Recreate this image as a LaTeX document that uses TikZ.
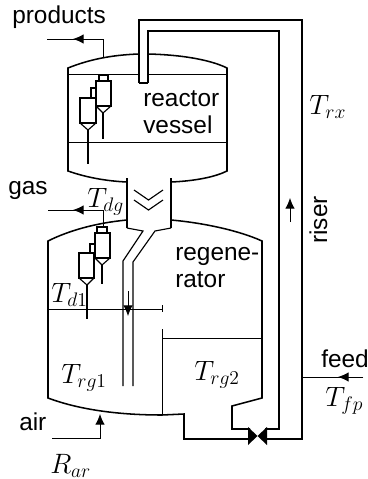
\documentclass[tikz,border=0pt]{standalone}
\usepackage{fix-cm}
\usepackage{fontspec}
\setmainfont{Liberation Sans}
\usepackage{amsmath}
\usetikzlibrary{positioning,arrows.meta,calc}
\tikzset{
  wall/.style    ={line width=1.15pt,draw=black},
  thinwall/.style={line width=0.85pt,draw=black},
  level/.style   ={line width=0.7pt,draw=black},
  pipe/.style    ={line width=0.7pt,draw=black},
  flow/.style    ={line width=0.7pt,draw=black,-{Latex[length=2.8mm,width=2.5mm]}},
  tag/.style     ={inner sep=0pt,font=\fontsize{18.3}{20}\selectfont,align=left},
  mathtag/.style ={inner sep=0pt,font=\fontsize{21}{24}\selectfont},
}
\begin{document}
\begin{tikzpicture}[x=0.75pt,y=-0.75pt]
  \useasboundingbox (0,0) rectangle (368,479);
  % reactor vessel
  \draw[wall] (139,54) .. controls (110,55) and (88,60) .. (68,68) -- (68,171)
    .. controls (85,177) and (105,181) .. (127,182);
  \draw[wall] (171,182) .. controls (195,181) and (215,177) .. (227,171) -- (227,68)
    .. controls (215,62) and (190,55) .. (148,54);
  \draw[level] (68,74) -- (139,74);
  \draw[level] (148,74) -- (227,74);
  \draw[level] (68,142) -- (227,142);
  % riser
  \draw[wall] (139,83) -- (139,20) -- (302,20) -- (302,439) -- (265,439);
  \draw[wall] (148,83) -- (148,31) -- (279,31) -- (279,429) -- (265,429);
  \draw[thinwall] (139,83) -- (148,83);
  % valve
  \fill (248,427) -- (267,445) -- (267,427) -- (248,445) -- cycle;
  % stripper neck
  \draw[wall] (127,178) -- (127,228);
  \draw[wall] (171,178) -- (171,228);
  \draw[thinwall] (134,190) -- (148.5,200) -- (163,190);
  \draw[thinwall] (134,200) -- (148.5,210) -- (163,200);
  % regenerator
  \draw[wall] (127,220) .. controls (95,223) and (68,231) .. (48,241) -- (48,398)
    .. controls (80,410) and (120,415) .. (162,415) -- (184,414) -- (184,439) -- (250,439);
  \draw[wall] (171,220) .. controls (205,223) and (240,231) .. (262,241) -- (262,398)
    -- (232,406) -- (232,429) -- (250,429);
  % standpipe
  \draw[thinwall] (127,228) -- (143,231) -- (123,261) -- (123,386);
  \draw[thinwall] (171,228) -- (155,231) -- (133,262) -- (133,386);
  % level and baffle
  \draw[level] (48,309) -- (162,309);
  \draw[level] (162,305) -- (162,312);
  \draw[level] (162,329) -- (162,415);
  \draw[level] (162,338) -- (262,338);
  % cyclones, reactor
  \draw[thinwall] (99,75) rectangle (108,81);
  \draw[thinwall] (96,81) rectangle (111,106);
  \draw[thinwall] (96,106) -- (103,113) -- (111,106);
  \draw[thinwall] (103,113) -- (103,139);
  \draw[thinwall] (91,88) rectangle (96,98);
  \draw[thinwall] (80,98) rectangle (96,123);
  \draw[thinwall] (80,123) -- (88,130) -- (96,123);
  \draw[thinwall] (88,130) -- (88,164);
  % cyclones, regenerator
  \draw[thinwall] (97,227) rectangle (107,233);
  \draw[thinwall] (95,233) rectangle (110,258);
  \draw[thinwall] (95,258) -- (102,265) -- (110,258);
  \draw[thinwall] (102,265) -- (102,284);
  \draw[thinwall] (90,244) rectangle (95,253);
  \draw[thinwall] (79,253) rectangle (94,278);
  \draw[thinwall] (79,278) -- (87,285) -- (94,278);
  \draw[thinwall] (87,285) -- (87,319);
  % streams
  \coordinate (prodtap) at (103,57);
  \coordinate (prodbend) at (103,39);
  \coordinate (prodend) at (47,39);
  \coordinate (gastap) at (103,227);
  \coordinate (gasbend) at (103,210);
  \coordinate (gasend) at (48,210);
  \coordinate (airtap) at (100,414);
  \coordinate (airbend) at (100,438);
  \coordinate (airend) at (52,438);
  \coordinate (feedend) at (363,377);
  \coordinate (feedtap) at (302,377);
  \coordinate (riserlo) at (290,222);
  \coordinate (riserhi) at (290,198);
  \coordinate (downhi) at (128,291);
  \coordinate (downlo) at (128,316);
  \draw[pipe] (prodtap) -- (prodbend) -- (prodend);
  \draw[flow] (prodbend) -- (73,39);
  \draw[pipe] (gastap) -- (gasbend) -- (gasend);
  \draw[flow] (gasbend) -- (73,210);
  \draw[flow] (airend) -- (airbend) -- (airtap);
  \draw[pipe] (feedend) -- (feedtap);
  \draw[flow] (feedend) -- (338,377);
  \draw[flow] (riserlo) -- (riserhi);
  \draw[flow] (downhi) -- (downlo);
  % labels
  \node[tag,anchor=base west] (products) at (12,23) {products};
  \node[tag,anchor=base west] (gas) at (8,194) {gas};
  \node[tag,anchor=base west] (air) at (19,430) {air};
  \node[tag,anchor=base west] (feed) at (321,367) {feed};
  \node[tag,anchor=base west] (reactor) at (143,133) {reactor\\vessel};
  \node[tag,anchor=base west] (regen) at (175,287) {regene-\\rator};
  \node[tag,anchor=base,rotate=90] (riser) at (327,220) {riser};
  \node[mathtag,anchor=base west] (Trx) at (309,114) {$T_{rx}$};
  \node[mathtag,anchor=base west] (Tdg) at (87,207) {$T_{dg}$};
  \node[mathtag,anchor=base west] (Tdl) at (51,302) {$T_{d1}$};
  \node[mathtag,anchor=base west] (Trg1) at (61,383) {$T_{rg1}$};
  \node[mathtag,anchor=base west] (Trg2) at (194,380) {$T_{rg2}$};
  \node[mathtag,anchor=base west] (Tfp) at (325,406) {$T_{fp}$};
  \node[mathtag,anchor=base west] (Rar) at (50,473) {$R_{ar}$};
\end{tikzpicture}
\end{document}
